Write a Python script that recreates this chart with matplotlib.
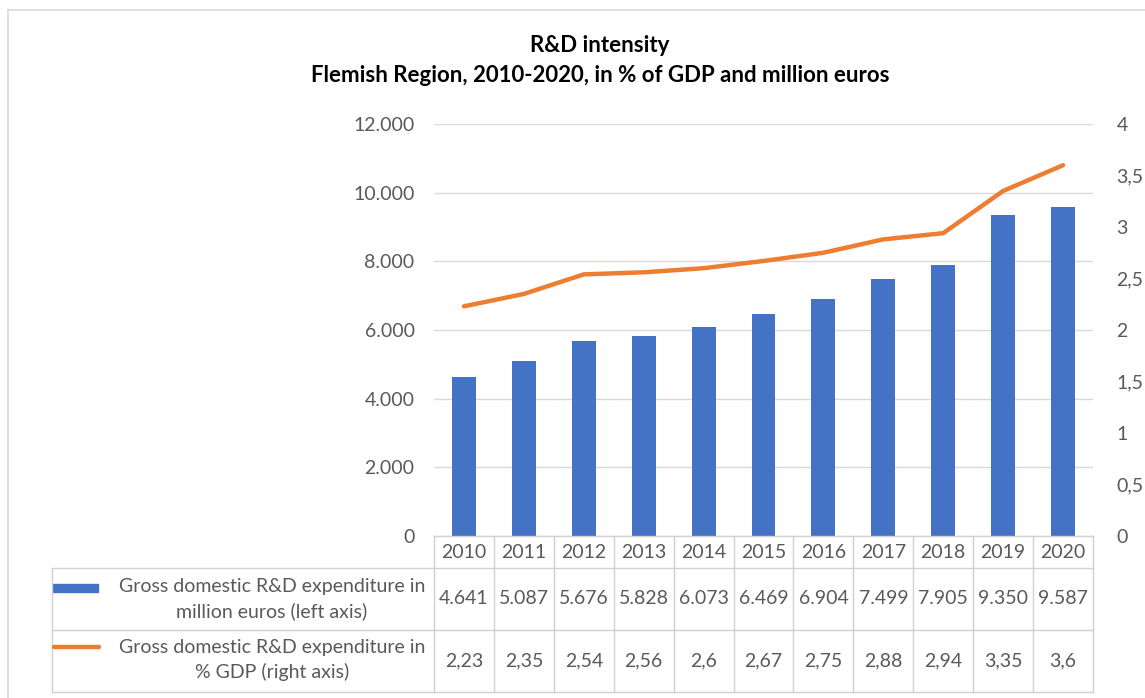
import matplotlib
matplotlib.use("Agg")
import matplotlib.pyplot as plt
from matplotlib.transforms import blended_transform_factory
from matplotlib.lines import Line2D
from matplotlib.patches import Rectangle

plt.rcParams['font.family'] = ['Lato', 'DejaVu Sans']

years = ["2010", "2011", "2012", "2013", "2014", "2015", "2016", "2017", "2018", "2019", "2020"]
expenditure = [4641, 5087, 5676, 5828, 6073, 6469, 6904, 7499, 7905, 9350, 9587]
intensity = [2.23, 2.35, 2.54, 2.56, 2.60, 2.67, 2.75, 2.88, 2.94, 3.35, 3.60]
left_ticks = [0, 2000, 4000, 6000, 8000, 10000, 12000]
right_ticks = [0, 0.5, 1, 1.5, 2, 2.5, 3, 3.5, 4]
bar_label = "Gross domestic R&D expenditure in\nmillion euros (left axis)"
line_label = "Gross domestic R&D expenditure in\n% GDP (right axis)"
title_1 = "R&D intensity"
title_2 = "Flemish Region, 2010-2020, in % of GDP and million euros"

BLUE = "#4472C4"
ORANGE = "#ED7D31"
GRID = "#D9D9D9"
TXT = "#595959"
FS = 14

W, H = 1145, 698
fig = plt.figure(figsize=(W / 100, H / 100), dpi=100)

def fx(px):
    return px / W

def fy(py):
    return 1 - py / H

ax_l, ax_r, ax_t, ax_b = 434, 1093, 124, 536
ax = fig.add_axes([fx(ax_l), fy(ax_b), fx(ax_r - ax_l), (ax_b - ax_t) / H])
ax2 = ax.twinx()

x = list(range(len(years)))
ax.bar(x, expenditure, width=0.4, color=BLUE, zorder=3)
ax.set_xlim(-0.5, len(years) - 0.5)
ax.set_ylim(0, 12000)
ax.set_yticks(left_ticks)
ax.set_yticklabels([f"{v:,}".replace(",", ".") for v in left_ticks])
ax.grid(axis='y', color=GRID, lw=1, zorder=0)
ax.set_axisbelow(True)
ax.set_xticks([])

ax2.plot(x, intensity, color=ORANGE, lw=3.2, solid_capstyle='round', zorder=4)
ax2.set_ylim(0, 4)
ax2.set_yticks(right_ticks)
ax2.set_yticklabels([f"{v:g}".replace(".", ",") for v in right_ticks])

for a in (ax, ax2):
    for s in a.spines.values():
        s.set_visible(False)
    a.tick_params(axis='y', length=0, labelsize=FS, colors=TXT)
ax.tick_params(axis='y', pad=14)
ax2.tick_params(axis='y', pad=17)

# title
fig.text(fx(600), fy(45), title_1, ha='center', va='center', fontsize=16,
         fontweight='bold', color='black')
fig.text(fx(600), fy(75), title_2, ha='center', va='center', fontsize=16,
         fontweight='bold', color='black')

# outer border
fig.add_artist(Line2D([fx(8), 1], [fy(10), fy(10)], color=GRID, lw=1.2))
fig.add_artist(Line2D([fx(8), fx(8)], [fy(10), 0], color=GRID, lw=1.2))

# data table
tr = blended_transform_factory(ax.transData, fig.transFigure)
y_head_t, y_r1_t, y_r2_t, y_end = 536, 568, 630, 692
tab_left = 52
lc = "#D0D0D0"
fig.add_artist(Line2D([fx(ax_l), fx(ax_r)], [fy(y_head_t)] * 2, color=lc, lw=1))
for yy in (y_r1_t, y_r2_t, y_end):
    fig.add_artist(Line2D([fx(tab_left), fx(ax_r)], [fy(yy)] * 2, color=lc, lw=1))
for i in range(len(years) + 1):
    fig.add_artist(Line2D([i - 0.5, i - 0.5], [fy(y_head_t), fy(y_end)], color=lc, lw=1,
                          transform=tr))
fig.add_artist(Line2D([fx(tab_left)] * 2, [fy(y_r1_t), fy(y_end)], color=lc, lw=1))

for i, yr in enumerate(years):
    fig.text(i, fy((y_head_t + y_r1_t) / 2), yr, transform=tr, ha='center', va='center',
             fontsize=FS, color=TXT)
    fig.text(i, fy((y_r1_t + y_r2_t) / 2), f"{expenditure[i]:,}".replace(",", "."),
             transform=tr, ha='center', va='center', fontsize=FS, color=TXT)
    fig.text(i, fy((y_r2_t + y_end) / 2), f"{intensity[i]:g}".replace(".", ","),
             transform=tr, ha='center', va='center', fontsize=FS, color=TXT)

# legend keys
fig.add_artist(Rectangle((fx(53), fy(592)), fx(45), 8 / H, color=BLUE, transform=fig.transFigure))
fig.add_artist(Line2D([fx(54), fx(99)], [fy(647)] * 2, color=ORANGE, lw=3.2, solid_capstyle='round'))
fig.text(fx(272), fy(599), bar_label, ha='center', va='center', fontsize=FS, color=TXT,
         linespacing=1.5)
fig.text(fx(272), fy(660), line_label, ha='center', va='center', fontsize=FS, color=TXT,
         linespacing=1.5)

fig.savefig("out.png", dpi=100, facecolor='white')
